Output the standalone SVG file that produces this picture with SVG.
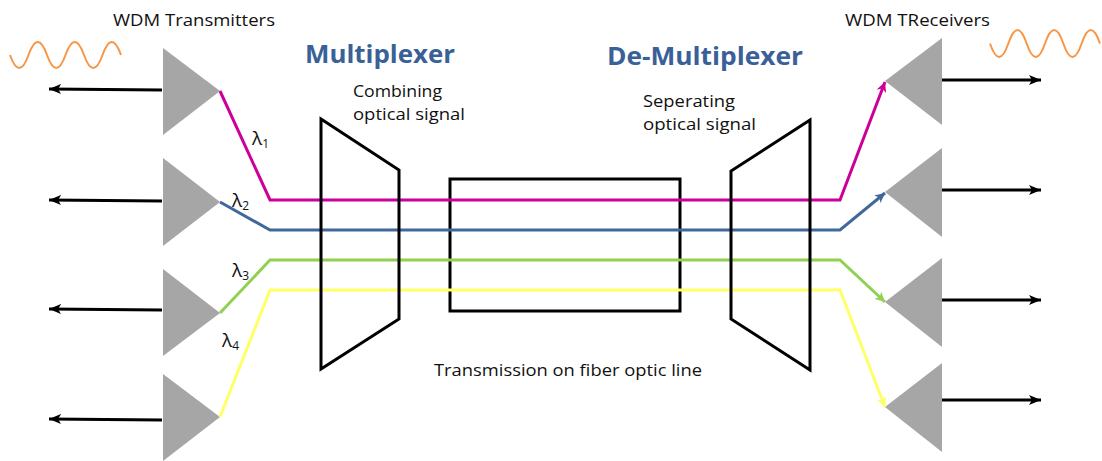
<svg xmlns="http://www.w3.org/2000/svg" width="1102" height="461" viewBox="0 0 1102 461">
<style>
.tri{fill:#a6a6a6}
.blk{fill:none;stroke:#000;stroke-width:3;stroke-linejoin:miter}
.ar{stroke:#000;stroke-width:3;fill:none}
.txt{font-family:"Open Sans","Liberation Sans",Arial,sans-serif;fill:#111}
.ttl{font-family:"Open Sans","Liberation Sans",Arial,sans-serif;font-weight:bold;fill:#3a6197}
.wave{fill:none;stroke:#f79646;stroke-width:2}
.ln{fill:none;stroke-width:3;stroke-linejoin:miter}
</style>
<defs>
<marker id="ak" markerUnits="userSpaceOnUse" markerWidth="14" markerHeight="12" refX="12" refY="6" orient="auto"><path d="M0,1 L12,6 L0,11 L3,6 z" fill="#000"/></marker>
<marker id="am" markerUnits="userSpaceOnUse" markerWidth="12" markerHeight="10" refX="10" refY="5" orient="auto"><path d="M0,0 L10,5 L0,10 L3,5 z" fill="#cc0099"/></marker>
<marker id="ab" markerUnits="userSpaceOnUse" markerWidth="12" markerHeight="10" refX="10" refY="5" orient="auto"><path d="M0,0 L10,5 L0,10 L3,5 z" fill="#41689c"/></marker>
<marker id="ag" markerUnits="userSpaceOnUse" markerWidth="12" markerHeight="10" refX="10" refY="5" orient="auto"><path d="M0,0 L10,5 L0,10 L3,5 z" fill="#92d050"/></marker>
<marker id="ay" markerUnits="userSpaceOnUse" markerWidth="12" markerHeight="10" refX="10" refY="5" orient="auto"><path d="M0,0 L10,5 L0,10 L3,5 z" fill="#ffff66"/></marker>
</defs>
<rect width="1102" height="461" fill="#fff"/>

<g id="waves">
<path class="wave" d="M10,55 q9.25,26 18.5,0 t18.5,0 t18.5,0 t18.5,0 t18.5,0 t18.5,0"/>
<path class="wave" d="M990,43.5 q9.17,27 18.33,0 t18.33,0 t18.33,0 t18.33,0 t18.33,0 t18.33,0"/>
</g>

<g id="labels">
<text class="txt" x="113" y="26" font-size="17" textLength="162" lengthAdjust="spacingAndGlyphs">WDM Transmitters</text>
<text class="txt" x="845" y="26" font-size="17" textLength="145" lengthAdjust="spacingAndGlyphs">WDM TReceivers</text>
<text class="ttl" x="305" y="63" font-size="25" textLength="150" lengthAdjust="spacingAndGlyphs">Multiplexer</text>
<text class="ttl" x="607" y="65" font-size="25" textLength="196" lengthAdjust="spacingAndGlyphs">De-Multiplexer</text>
<text class="txt" x="353" y="97" font-size="16.5" textLength="89" lengthAdjust="spacingAndGlyphs">Combining</text>
<text class="txt" x="353" y="120" font-size="16.5" textLength="112" lengthAdjust="spacingAndGlyphs">optical signal</text>
<text class="txt" x="643" y="107" font-size="16.5" textLength="92" lengthAdjust="spacingAndGlyphs">Seperating</text>
<text class="txt" x="643" y="130" font-size="16.5" textLength="113" lengthAdjust="spacingAndGlyphs">optical signal</text>
<text class="txt" x="434" y="376" font-size="17" textLength="268" lengthAdjust="spacingAndGlyphs">Transmission on fiber optic line</text>
<text class="txt" x="252" y="145" font-size="19">λ<tspan font-size="12" dy="3">1</tspan></text>
<text class="txt" x="232" y="207" font-size="19">λ<tspan font-size="12" dy="3">2</tspan></text>
<text class="txt" x="232" y="277" font-size="19">λ<tspan font-size="12" dy="3">3</tspan></text>
<text class="txt" x="222" y="347" font-size="19">λ<tspan font-size="12" dy="3">4</tspan></text>
</g>

<g id="tx1"><polygon class="tri" points="163,48 220,91 163,135"/></g>
<g id="tx2"><polygon class="tri" points="163,158 220,202 163,246"/></g>
<g id="tx3"><polygon class="tri" points="163,269 220,313 163,356"/></g>
<g id="tx4"><polygon class="tri" points="163,374 220,417 163,461"/></g>

<g id="rx1"><polygon class="tri" points="942,38 885,81 942,125"/></g>
<g id="rx2"><polygon class="tri" points="942,148 885,192 942,237"/></g>
<g id="rx3"><polygon class="tri" points="942,258 885,302 942,347"/></g>
<g id="rx4"><polygon class="tri" points="942,363 885,407 942,452"/></g>

<g id="fiber"><rect class="blk" x="450" y="179" width="230" height="132"/></g>

<g id="connectors">
<line class="ar" x1="162" y1="90" x2="49" y2="89" marker-end="url(#ak)"/>
<line class="ar" x1="162" y1="201" x2="49" y2="200" marker-end="url(#ak)"/>
<line class="ar" x1="162" y1="310" x2="49" y2="309" marker-end="url(#ak)"/>
<line class="ar" x1="162" y1="420" x2="49" y2="419" marker-end="url(#ak)"/>
<line class="ar" x1="942" y1="80" x2="1041" y2="80" marker-end="url(#ak)"/>
<line class="ar" x1="942" y1="190" x2="1041" y2="190" marker-end="url(#ak)"/>
<line class="ar" x1="942" y1="300" x2="1041" y2="300" marker-end="url(#ak)"/>
<line class="ar" x1="942" y1="400" x2="1041" y2="400" marker-end="url(#ak)"/>
<polyline class="ln" stroke="#cc0099" points="220,91 270,200 840,200 885,82" marker-end="url(#am)"/>
<polyline class="ln" stroke="#41689c" points="220,202 270,230 840,230 885,193" marker-end="url(#ab)"/>
<polyline class="ln" stroke="#92d050" points="220,313 270,260 840,260 885,302" marker-end="url(#ag)"/>
<polyline class="ln" stroke="#ffff66" points="220,417 270,290 840,290 885,407" marker-end="url(#ay)"/>
</g>

<g id="mux"><polygon class="blk" points="321,119 399,170 399,319 321,369"/></g>
<g id="demux"><polygon class="blk" points="810,120 731,171 731,319 810,370"/></g>
</svg>
